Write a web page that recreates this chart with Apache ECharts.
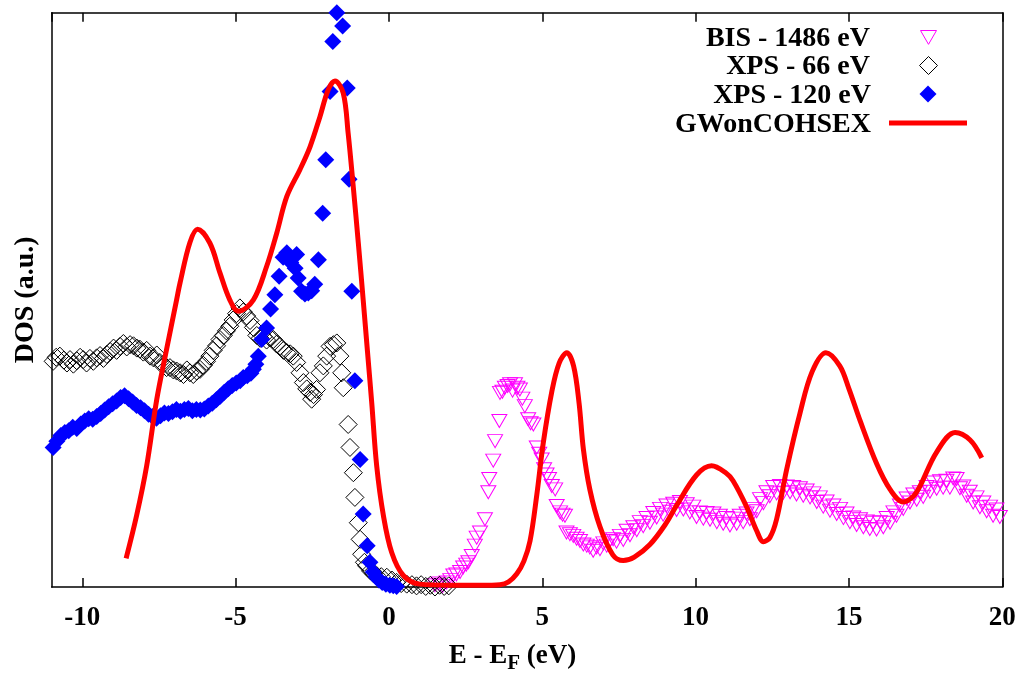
<!DOCTYPE html>
<html>
<head>
<meta charset="utf-8">
<script src="https://cdn.jsdelivr.net/npm/echarts@6/dist/echarts.min.js"></script>
<style>
html,body{margin:0;padding:0;background:#fff;}
#chart{width:1028px;height:679px;}
</style>
</head>
<body>
<div id="chart"></div>
<script>
// ---- data (x: E - E_F in eV, y: DOS in arbitrary units 0..100) ----
const seriesNames = ['BIS - 1486 eV', 'XPS - 66 eV', 'XPS - 120 eV', 'GWonCOHSEX'];
const xTickLabels = [-10, -5, 0, 5, 10, 15, 20];

const bis1486 = [
  [1.50,0.3],[1.62,0.6],[1.75,0.2],[1.88,0.8],[2.00,1.2],[2.10,2.0],[2.20,2.2],[2.32,2.6],[2.42,3.4],[2.52,3.9],
  [2.59,4.3],[2.70,5.4],[2.80,7.2],[2.86,8.6],[2.97,9.5],[3.13,11.8],[3.24,16.5],[3.27,18.8],[3.40,22.0],[3.46,25.4],
  [3.60,28.9],[3.62,33.8],[3.70,34.0],[3.78,34.7],[3.87,35.0],[3.95,35.3],[4.03,34.2],[4.11,35.3],[4.19,34.7],[4.27,34.4],
  [4.35,32.8],[4.43,31.5],[4.54,29.2],[4.62,28.5],[4.71,28.3],[4.82,24.3],[4.90,23.2],[4.98,22.2],[5.06,20.5],[5.14,19.6],
  [5.22,18.8],[5.31,17.6],[5.42,17.0],[5.47,14.1],[5.58,13.0],[5.66,12.6],[5.74,12.4],[5.79,9.5],[5.90,9.2],[6.01,8.9],
  [6.12,8.4],[6.23,8.0],[6.34,7.4],[6.45,7.2],[6.55,6.9],[6.66,6.3],[6.77,6.9],[6.88,6.6],[6.99,7.6],[7.10,7.2],
  [7.20,8.0],[7.31,8.3],[7.42,7.9],[7.53,8.9],[7.64,8.2],[7.75,9.8],[7.86,9.0],[7.97,10.4],[8.08,9.9],[8.18,11.3],
  [8.29,10.6],[8.40,12.0],[8.51,11.2],[8.62,12.9],[8.73,12.1],[8.84,13.6],[8.94,12.6],[9.05,14.2],[9.16,13.1],[9.27,14.5],
  [9.38,13.4],[9.49,14.8],[9.60,13.5],[9.71,14.4],[9.81,13.0],[9.92,14.0],[10.03,12.2],[10.14,13.0],[10.25,11.9],[10.36,12.9],
  [10.47,11.7],[10.58,12.8],[10.69,11.3],[10.79,12.4],[10.90,11.0],[11.01,12.0],[11.12,10.7],[11.23,11.9],[11.34,11.0],[11.44,12.4],
  [11.55,11.3],[11.66,12.8],[11.77,11.8],[11.88,13.6],[11.99,13.2],[12.10,15.3],[12.21,14.6],[12.31,16.5],[12.42,15.8],[12.53,17.4],
  [12.64,16.3],[12.75,17.6],[12.86,16.4],[12.97,17.5],[13.08,16.5],[13.18,17.4],[13.29,16.1],[13.40,17.2],[13.51,15.9],[13.62,16.8],
  [13.73,15.6],[13.84,16.3],[13.95,14.8],[14.05,15.6],[14.16,14.0],[14.27,14.9],[14.38,13.3],[14.49,14.2],[14.60,12.7],[14.71,13.6],
  [14.82,12.0],[14.92,12.8],[15.03,11.3],[15.14,12.1],[15.25,10.8],[15.36,11.8],[15.47,10.4],[15.58,11.4],[15.68,10.1],[15.79,11.2],
  [15.90,10.0],[16.01,11.3],[16.12,10.4],[16.23,12.0],[16.34,11.2],[16.45,13.0],[16.55,12.4],[16.66,14.2],[16.77,13.6],[16.88,15.4],
  [16.99,14.7],[17.10,16.1],[17.21,15.2],[17.31,16.5],[17.42,15.7],[17.53,17.4],[17.64,16.6],[17.75,18.2],[17.86,17.1],[17.97,18.4],
  [18.07,17.3],[18.18,18.5],[18.29,17.3],[18.40,18.9],[18.51,18.8],[18.62,17.2],[18.73,17.5],[18.84,15.9],[18.94,16.6],[19.05,14.7],
  [19.16,15.6],[19.27,13.9],[19.38,14.7],[19.49,13.2],[19.60,14.0],[19.70,12.4],[19.81,13.5],[19.92,12.2]
];

const xps66 = [
  [-10.95,39.3],[-10.85,40.0],[-10.73,40.2],[-10.60,39.5],[-10.50,39.0],[-10.40,39.6],[-10.29,38.8],[-10.18,39.4],[-10.07,40.0],[-9.97,39.6],
  [-9.86,39.0],[-9.75,39.8],[-9.64,39.3],[-9.53,39.9],[-9.42,40.3],[-9.31,39.8],[-9.20,40.5],[-9.09,41.0],[-8.98,41.6],[-8.88,41.2],
  [-8.77,41.9],[-8.66,42.4],[-8.55,41.8],[-8.44,42.2],[-8.33,42.0],[-8.22,41.6],[-8.12,41.4],[-8.01,40.9],[-7.90,41.2],[-7.79,40.2],
  [-7.68,39.9],[-7.57,40.4],[-7.47,39.1],[-7.36,38.8],[-7.25,38.2],[-7.14,38.2],[-7.03,37.8],[-6.92,37.6],[-6.81,37.3],[-6.70,37.0],
  [-6.59,37.8],[-6.49,37.3],[-6.38,37.0],[-6.27,37.6],[-6.16,37.9],[-6.05,38.6],[-5.95,39.3],[-5.84,40.2],[-5.73,41.2],[-5.62,42.0],
  [-5.51,43.1],[-5.40,43.8],[-5.30,44.6],[-5.19,45.4],[-5.08,46.5],[-4.97,47.6],[-4.86,48.6],[-4.75,47.9],[-4.64,47.2],[-4.53,46.4],
  [-4.42,45.2],[-4.31,43.8],[-4.20,43.3],[-4.10,43.6],[-3.99,43.0],[-3.88,43.4],[-3.77,43.1],[-3.66,42.3],[-3.55,41.9],[-3.44,41.2],
  [-3.33,40.8],[-3.22,40.6],[-3.12,40.2],[-3.01,39.1],[-2.90,37.3],[-2.79,35.6],[-2.68,34.5],[-2.57,33.9],[-2.52,32.7],[-2.46,33.5],
  [-2.36,34.4],[-2.25,37.3],[-2.14,38.5],[-2.03,40.2],[-1.92,41.9],[-1.81,42.2],[-1.70,42.5],[-1.60,40.2],[-1.54,37.3],[-1.49,34.7],
  [-1.33,28.3],[-1.27,24.3],[-1.16,19.9],[-1.11,15.6],[-1.00,11.2],[-0.94,8.3],[-0.89,5.7],[-0.80,4.3],[-0.73,3.7],[-0.60,2.8],
  [-0.50,2.3],[-0.40,2.0],[-0.25,1.8],[-0.07,1.7],[0.10,1.2],[0.25,0.8],[0.40,0.6],[0.58,0.5],[0.75,0.4],[0.90,0.2],
  [1.05,0.4],[1.20,0.1],[1.35,0.3],[1.50,0.0],[1.65,0.3],[1.80,0.1],[1.95,0.2]
];

const xps120 = [
  [-10.95,24.3],[-10.83,25.4],[-10.70,26.4],[-10.57,26.9],[-10.44,27.2],[-10.31,27.8],[-10.18,27.6],[-10.05,28.4],[-9.92,28.9],[-9.79,29.3],
  [-9.66,29.2],[-9.53,29.7],[-9.40,30.2],[-9.27,30.8],[-9.14,31.4],[-9.01,31.9],[-8.88,32.4],[-8.75,33.0],[-8.62,33.3],[-8.49,32.8],
  [-8.36,32.2],[-8.23,31.6],[-8.10,31.2],[-7.97,30.7],[-7.84,30.1],[-7.71,29.7],[-7.58,29.4],[-7.45,29.8],[-7.32,30.3],[-7.19,30.2],
  [-7.06,30.5],[-6.93,30.9],[-6.80,30.6],[-6.67,30.9],[-6.54,31.1],[-6.41,30.7],[-6.28,30.9],[-6.15,30.8],[-6.02,31.0],[-5.89,31.5],
  [-5.76,32.0],[-5.63,32.6],[-5.50,33.2],[-5.37,33.9],[-5.24,34.5],[-5.11,35.1],[-4.98,35.5],[-4.85,35.9],[-4.75,36.5],[-4.62,36.8],
  [-4.50,37.2],[-4.42,37.9],[-4.34,38.8],[-4.26,40.2],[-4.15,43.1],[-3.99,45.1],[-3.86,48.4],[-3.72,50.9],[-3.58,54.1],[-3.45,57.4],
  [-3.33,58.2],[-3.20,56.5],[-3.06,55.5],[-3.01,57.9],[-2.96,53.8],[-2.85,51.5],[-2.74,51.0],[-2.63,51.2],[-2.52,51.6],[-2.42,52.7],
  [-2.30,57.0],[-2.16,65.1],[-2.06,74.4],[-1.92,86.3],[-1.83,95.0],[-1.70,100.0],[-1.51,97.7],[-1.36,86.9],[-1.30,71.0],[-1.21,51.5],
  [-1.11,35.9],[-0.94,22.2],[-0.84,12.7],[-0.71,7.2],[-0.62,4.3],[-0.51,2.6],[-0.42,1.8],[-0.33,1.2],[-0.22,0.8],[-0.10,0.5],
  [0.03,0.3],[0.14,0.2],[0.25,0.1]
];

const gwCohsex = [
  [-8.57,5.0],[-8.23,12.4],[-7.90,21.1],[-7.57,32.7],[-7.25,41.4],[-6.92,50.1],[-6.81,53.0],[-6.49,60.0],[-6.24,62.3],[-5.84,59.9],
  [-5.51,54.7],[-5.19,50.0],[-4.91,48.0],[-4.42,50.0],[-3.99,55.8],[-3.66,61.6],[-3.33,68.0],[-2.90,72.7],[-2.57,76.7],[-2.25,81.9],
  [-1.98,86.6],[-1.76,88.1],[-1.49,86.0],[-1.33,79.0],[-1.16,69.5],[-1.00,60.0],[-0.84,50.0],[-0.70,41.0],[-0.56,32.0],[-0.40,21.1],
  [-0.18,12.4],[0.09,6.0],[0.47,2.0],[1.01,0.5],[2.00,0.3],[3.00,0.3],[3.62,0.4],[3.90,0.9],[4.17,2.3],[4.40,4.5],
  [4.60,8.0],[4.82,16.0],[5.03,25.0],[5.31,34.0],[5.55,39.0],[5.80,40.8],[6.02,38.5],[6.20,32.0],[6.34,24.0],[6.55,17.0],
  [6.88,10.5],[7.30,5.6],[7.64,4.6],[8.00,5.2],[8.51,7.4],[9.00,10.8],[9.38,14.2],[10.03,19.5],[10.52,21.1],[11.00,19.8],
  [11.22,18.5],[11.66,14.0],[11.99,9.8],[12.21,7.9],[12.42,8.6],[12.64,11.8],[12.97,20.5],[13.40,30.2],[13.80,37.5],[14.25,40.8],
  [14.70,38.5],[15.00,34.5],[15.36,29.0],[15.90,21.5],[16.34,17.0],[16.77,14.8],[17.10,15.8],[17.32,17.6],[17.86,23.5],[18.46,26.9],
  [18.95,25.6],[19.33,22.5]
];

// ---- chart ----
const FONT = 'Liberation Serif';
const chart = echarts.init(document.getElementById('chart'), null, {renderer: 'canvas'});
const legendText = {fontFamily: FONT, fontWeight: 'bold', fontSize: 28, color: '#000'};
const textRowTops = [25, 53, 82, 111];
// text part of each legend row (right-aligned, ends at x=871)
function textLegend(i) {
  return {
    data: [{name: seriesNames[i], icon: 'rect'}], right: 152, top: textRowTops[i], align: 'right', padding: 0,
    itemWidth: 0, itemHeight: 0, textStyle: legendText, selectedMode: false
  };
}
// symbol part of each legend row (centred at x=928)
function iconLegend(i, icon, w, h, cy, extra) {
  return Object.assign({
    data: [{name: seriesNames[i], icon: icon}], left: 928 - w / 2, top: cy - h / 2, align: 'left', padding: 0,
    itemWidth: w, itemHeight: h, formatter: () => '', textStyle: {fontSize: 1}, selectedMode: false
  }, extra || {});
}
const axisFrame = {onZero: false, lineStyle: {color: '#000', width: 1.5}};
chart.setOption({
  animation: false,
  backgroundColor: '#fff',
  grid: {left: 51.6, right: 25.7, top: 12.7, bottom: 91, containLabel: false},
  legend: [
    textLegend(0), textLegend(1), textLegend(2), textLegend(3),
    iconLegend(0, 'path://M0,0L20,0L10,17.3Z', 16, 14, 37, {itemStyle: {borderWidth: 1}}),
    iconLegend(1, 'path://M9,0L18,9L9,18L0,9Z', 18, 18, 65, {itemStyle: {borderWidth: 1}}),
    iconLegend(2, 'path://M9,0L18,9L9,18L0,9Z', 17, 17, 94),
    iconLegend(3, 'rect', 78, 5, 123, {itemStyle: {color: '#ff0000', borderWidth: 0}})
  ],
  xAxis: [
    {
      type: 'value', min: -11, max: 20, position: 'bottom',
      name: 'E - E{sub|F} (eV)', nameLocation: 'middle', nameGap: 52,
      nameTextStyle: {fontFamily: FONT, fontWeight: 'bold', fontSize: 27, color: '#000', padding: [0, 29, 0, 0],
        rich: {sub: {fontFamily: FONT, fontWeight: 'bold', fontSize: 21, color: '#000', padding: [14, 0, 0, 0]}}},
      axisLine: axisFrame,
      axisTick: {show: true, inside: true, length: 9, lineStyle: {color: '#000', width: 1.5}},
      axisLabel: {show: true, showMinLabel: false, margin: 18, fontFamily: FONT, fontWeight: 'bold', fontSize: 27, color: '#000',
        formatter: v => xTickLabels.indexOf(v) >= 0 ? String(v) : ''},
      splitLine: {show: false}
    },
    {
      type: 'value', min: -11, max: 20, position: 'top',
      axisLine: axisFrame,
      axisTick: {show: true, inside: true, length: 9, lineStyle: {color: '#000', width: 1.5}},
      axisLabel: {show: false}, splitLine: {show: false}
    }
  ],
  yAxis: [
    {
      type: 'value', min: 0, max: 100, position: 'left',
      name: 'DOS (a.u.)', nameLocation: 'middle', nameGap: 12, nameRotate: 90,
      nameTextStyle: {fontFamily: FONT, fontWeight: 'bold', fontSize: 28, color: '#000'},
      axisLine: axisFrame,
      axisTick: {show: false}, axisLabel: {show: false}, splitLine: {show: false}
    },
    {
      type: 'value', min: 0, max: 100, position: 'right',
      axisLine: axisFrame,
      axisTick: {show: false}, axisLabel: {show: false}, splitLine: {show: false}
    }
  ],
  series: [
    {
      name: seriesNames[0], type: 'scatter', data: bis1486, clip: false,
      symbol: 'triangle', symbolRotate: 180, symbolSize: [15, 13],
      itemStyle: {color: 'rgba(255,255,255,0)', borderColor: '#ff00ff', borderWidth: 1, opacity: 1}
    },
    {
      name: seriesNames[1], type: 'scatter', data: xps66, clip: false,
      symbol: 'diamond', symbolSize: 18,
      itemStyle: {color: 'rgba(255,255,255,0)', borderColor: '#000000', borderWidth: 1, opacity: 1}
    },
    {
      name: seriesNames[2], type: 'scatter', data: xps120, clip: false,
      symbol: 'diamond', symbolSize: 17,
      itemStyle: {color: '#0000ff', opacity: 1}
    },
    {
      name: seriesNames[3], type: 'line', data: gwCohsex, smooth: 0.35,
      showSymbol: false, symbol: 'none',
      lineStyle: {color: '#ff0000', width: 5}, itemStyle: {color: '#ff0000'}
    }
  ]
});
</script>
</body>
</html>
